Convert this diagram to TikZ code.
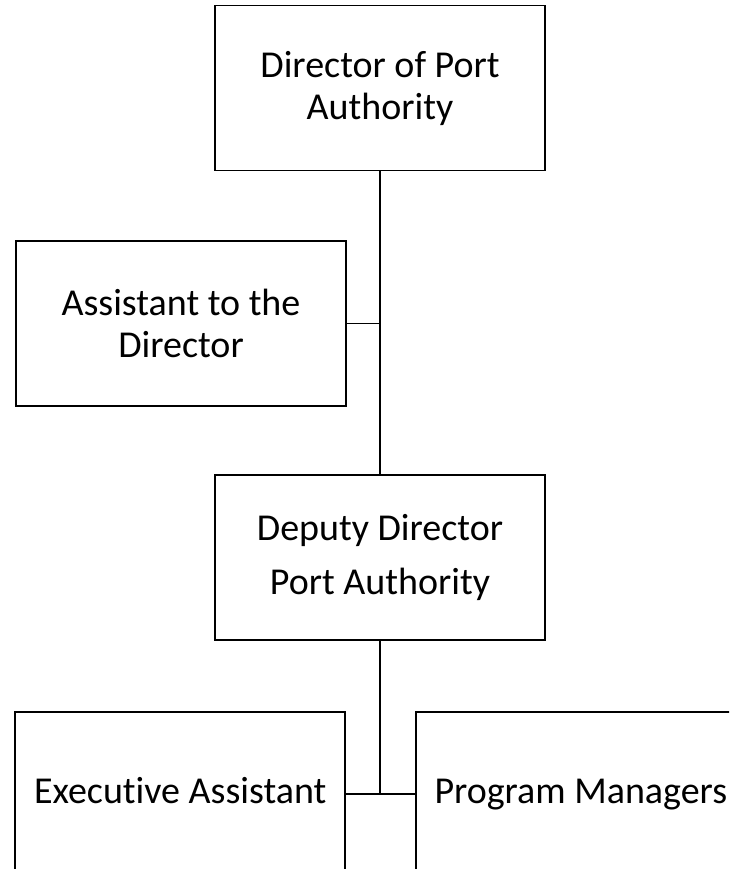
\documentclass[tikz,border=0pt]{standalone}
\usepackage{fontspec}
\setmainfont{Carlito}[Ligatures=NoCommon]
\usetikzlibrary{positioning}
\tikzset{
  role/.style={rectangle, minimum width=330pt, minimum height=165pt, text centered, align=center, draw=black, line width=1.6pt, font=\fontsize{38}{42}\selectfont},
  wide/.style={font=\fontsize{38}{54}\selectfont},
  single/.style={text height=26pt, text depth=8pt},
  link/.style={draw=black, line width=1.6pt},
  node distance=70pt
}
\begin{document}
\begin{tikzpicture}[x=1pt,y=1pt]
	\useasboundingbox (0,0) rectangle (729,-869);
	\clip (0,0) rectangle (729,-869);
	\node[role] (director) at (380,-88) {Director of Port\\Authority};
	\node[role, below=69pt of director, xshift=-199pt] (assistant) {Assistant to the\\Director};
	\node[role, wide, below=303pt of director] (deputy) {Deputy Director\\Port Authority};
	\node[role, single, anchor=north east, below left=70pt and 34pt of deputy.south] (exec) {Executive Assistant};
	\node[role, single, anchor=north west, below right=70pt and 35pt of deputy.south] (programs) {Program Managers};
	%
	\draw[link] (director) -- (deputy);
	\draw[link] (assistant.east) -- (assistant.east -| director.south);
	\draw[link] (deputy) -- (deputy.south |- exec.east) coordinate (split);
	\draw[link] (exec.east) -- (programs.west);
\end{tikzpicture}
\end{document}
